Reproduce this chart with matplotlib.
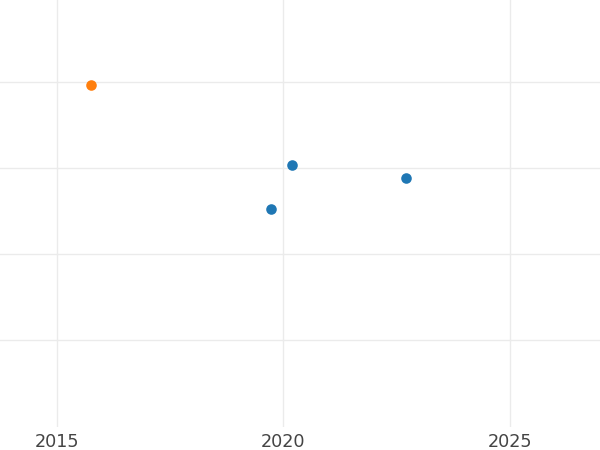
import matplotlib

matplotlib.use("Agg")
import matplotlib.pyplot as plt

# data
blue_years = [2020.2, 2019.72, 2022.71]
blue_values = [3.03, 2.52, 2.88]
orange_years = [2015.75]
orange_values = [3.965]

x_ticks = [2015, 2020, 2025]
y_grid = [1, 2, 3, 4]

fig = plt.figure(figsize=(6.0, 4.5), dpi=100)
ax = fig.add_axes([0.0, 23 / 450, 1.0, 427 / 450])

ax.scatter(blue_years, blue_values, s=58, color="#1f77b4", zorder=3, linewidths=0)
ax.scatter(orange_years, orange_values, s=58, color="#ff7f0e", zorder=3, linewidths=0)

ax.set_xlim(2013.749, 2026.985)
ax.set_ylim(-0.012, 4.953)
ax.set_xticks(x_ticks)
ax.set_xticklabels([str(t) for t in x_ticks])
ax.set_yticks(y_grid)
ax.set_yticklabels([])
ax.tick_params(axis="both", length=0)
ax.tick_params(axis="x", labelsize=12.7, labelcolor="#444444", pad=4)
ax.grid(True, color="#ebebeb", lw=1.0)
ax.set_axisbelow(True)
for spine in ax.spines.values():
    spine.set_visible(False)

fig.savefig("out.png", dpi=100)
